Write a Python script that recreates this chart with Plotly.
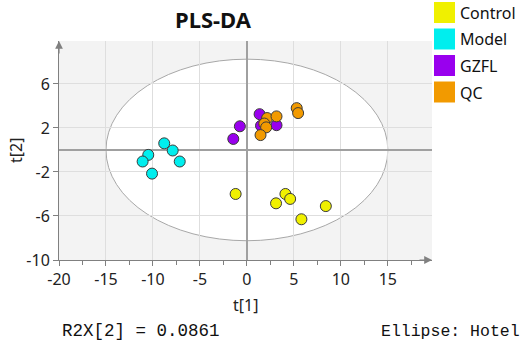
import plotly.graph_objects as go

# ---- data ----
groups = ["Control", "Model", "GZFL", "QC"]
colors = ["#F0F000", "#00EEEE", "#9900EE", "#F29A00"]

control_x = [-1.2, 3.1, 4.1, 4.6, 5.8, 8.4]
control_y = [-4.0, -4.85, -4.0, -4.45, -6.3, -5.1]

model_x = [-8.8, -7.9, -7.15, -10.5, -11.1, -10.1]
model_y = [0.6, -0.05, -1.05, -0.45, -1.05, -2.15]

gzfl_x = [-0.75, -1.45, 1.35, 3.15, 1.5]
gzfl_y = [2.15, 1.0, 3.25, 2.25, 2.2]

qc_x = [2.15, 3.15, 1.85, 2.05, 1.45, 5.3, 5.45]
qc_y = [2.9, 3.05, 2.4, 2.05, 1.35, 3.8, 3.35]

xs = [control_x, model_x, gzfl_x, qc_x]
ys = [control_y, model_y, gzfl_y, qc_y]

ellipse_a = 15.0   # Hotelling T2 ellipse semi-axis t[1]
ellipse_b = 8.25   # semi-axis t[2]

x_ticks = [-20, -15, -10, -5, 0, 5, 10, 15]
y_ticks = [-10, -6, -2, 2, 6]

# ---- figure ----
W, H = 526, 344
ml, mr, mt, mb = 59, 94, 41, 84
pw, ph = W - ml - mr, H - mt - mb

fig = go.Figure()

for g, c, x, y in zip(groups, colors, xs, ys):
    fig.add_trace(go.Scatter(
        x=x, y=y, mode="markers", name=g,
        marker=dict(size=11, color=c, line=dict(color="#3a3a3a", width=1)),
        showlegend=False, hoverinfo="skip",
    ))

# ellipse (white inside, gray outline)
fig.add_shape(type="circle", xref="x", yref="y",
              x0=-ellipse_a, x1=ellipse_a, y0=-ellipse_b, y1=ellipse_b,
              fillcolor="white", line=dict(color="#A8A8A8", width=1), layer="below")

def px_to_paper_x(p):
    return (p - ml) / pw

def px_to_paper_y(p):
    return 1 - (p - mt) / ph

# manual legend: squares + labels
for i, (g, c) in enumerate(zip(groups, colors)):
    top = 2 + i * 26.5
    fig.add_shape(type="rect", xref="paper", yref="paper",
                  x0=px_to_paper_x(434), x1=px_to_paper_x(455),
                  y0=px_to_paper_y(top + 21), y1=px_to_paper_y(top),
                  fillcolor=c, line=dict(width=0))
    fig.add_annotation(xref="paper", yref="paper",
                       x=px_to_paper_x(458), y=px_to_paper_y(top + 11),
                       text=g, showarrow=False, xanchor="left", yanchor="middle",
                       font=dict(family="Noto Sans", size=16, color="#111111"))

# axis arrows
fig.add_annotation(xref="paper", yref="paper", x=0, y=px_to_paper_y(41),
                   ax=0, ay=14, axref="pixel", ayref="pixel", text="",
                   showarrow=True, arrowhead=2, arrowsize=1.3, arrowwidth=1.2,
                   arrowcolor="#808080")
fig.add_annotation(xref="paper", yref="paper", x=px_to_paper_x(432), y=0,
                   ax=-14, ay=0, axref="pixel", ayref="pixel", text="",
                   showarrow=True, arrowhead=2, arrowsize=1.3, arrowwidth=1.2,
                   arrowcolor="#808080")

# title
fig.add_annotation(xref="paper", yref="paper", x=px_to_paper_x(213), y=px_to_paper_y(19),
                   text="<b>PLS-DA</b>", showarrow=False, xanchor="center", yanchor="middle",
                   font=dict(family="Noto Sans", size=22, color="#111111"))

# axis titles
fig.add_annotation(xref="paper", yref="paper", x=px_to_paper_x(245), y=px_to_paper_y(305),
                   text="t[1]", showarrow=False, xanchor="center", yanchor="middle",
                   font=dict(family="Noto Sans", size=16, color="#222222"))
fig.add_annotation(xref="paper", yref="paper", x=px_to_paper_x(16), y=px_to_paper_y(151),
                   text="t[2]", showarrow=False, textangle=-90, xanchor="center", yanchor="middle",
                   font=dict(family="Noto Sans", size=16, color="#222222"))

# footer texts
fig.add_annotation(xref="paper", yref="paper", x=px_to_paper_x(60), y=px_to_paper_y(331),
                   text="R2X[2] = 0.0861", showarrow=False, xanchor="left", yanchor="middle",
                   font=dict(family="Liberation Mono", size=17.5, color="#111111"))
fig.add_annotation(xref="paper", yref="paper", x=px_to_paper_x(379), y=px_to_paper_y(331),
                   text="Ellipse: Hotel", showarrow=False, xanchor="left", yanchor="middle",
                   font=dict(family="Liberation Mono", size=16.5, color="#111111"))

axis_font = dict(family="Noto Sans", size=16, color="#222222")

fig.update_layout(
    width=W, height=H,
    margin=dict(l=ml, r=mr, t=mt, b=mb, pad=0),
    paper_bgcolor="white",
    plot_bgcolor="#F3F3F3",
    showlegend=False,
    hovermode=False,
    xaxis=dict(range=[-20, 19.7], tickmode="array", tickvals=x_ticks,
               ticktext=[str(v) for v in x_ticks],
               showgrid=True, gridcolor="#DEDEDE", gridwidth=1,
               zeroline=True, zerolinecolor="#A0A0A0", zerolinewidth=1.5,
               showline=True, linecolor="#808080", linewidth=1,
               ticks="outside", ticklen=5, tickcolor="#808080",
               minor=dict(dtick=2.5, tick0=0, ticks="outside", ticklen=4,
                          tickcolor="#808080", showgrid=False),
               tickfont=axis_font, fixedrange=True),
    yaxis=dict(range=[-10, 9.9], tickmode="array", tickvals=y_ticks,
               ticktext=[str(v) for v in y_ticks],
               showgrid=True, gridcolor="#DEDEDE", gridwidth=1,
               zeroline=True, zerolinecolor="#A0A0A0", zerolinewidth=1.5,
               showline=True, linecolor="#808080", linewidth=1,
               ticks="outside", ticklen=5, tickcolor="#808080",
               tickfont=axis_font, fixedrange=True),
)

fig.write_html("out.html",
               config={"displayModeBar": False, "staticPlot": True},
               post_script="document.body.style.margin='0';document.body.style.overflow='hidden';")
